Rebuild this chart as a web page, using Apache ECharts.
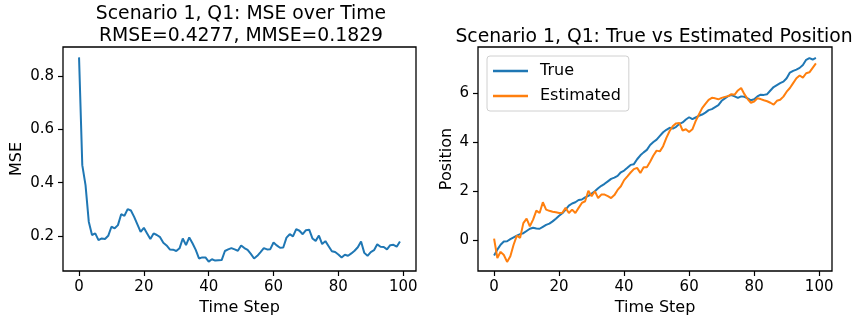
<!DOCTYPE html>
<html>
<head>
<meta charset="utf-8">
<script src="https://cdn.jsdelivr.net/npm/echarts@6/dist/echarts.min.js"></script>
<style>
  html, body { margin: 0; padding: 0; background: #fff; }
  #chart { width: 862px; height: 322px; }
</style>
</head>
<body>
<div id="chart"></div>
<script>
// Time axis: one step per sample
const timeSteps = Array.from({ length: 100 }, (_, i) => i);
const xTicks = [0, 20, 40, 60, 80, 100];
const mseTicks = [0.2, 0.4, 0.6, 0.8];
const posTicks = [0, 2, 4, 6];

// Per-step mean squared error of the filter
const mse = [
  0.87, 0.466, 0.391, 0.254, 0.204, 0.21, 0.185, 0.191, 0.189, 0.201,
  0.235, 0.229, 0.241, 0.282, 0.276, 0.301, 0.296, 0.272, 0.244, 0.216,
  0.231, 0.21, 0.189, 0.21, 0.204, 0.196, 0.175, 0.165, 0.15, 0.149,
  0.144, 0.154, 0.191, 0.166, 0.195, 0.173, 0.148, 0.116, 0.12, 0.12,
  0.104, 0.113, 0.108, 0.109, 0.11, 0.144, 0.15, 0.155, 0.15, 0.145,
  0.165, 0.155, 0.148, 0.133, 0.116, 0.126, 0.14, 0.155, 0.15, 0.151,
  0.176, 0.165, 0.156, 0.157, 0.194, 0.207, 0.199, 0.226, 0.22, 0.207,
  0.222, 0.224, 0.191, 0.182, 0.202, 0.17, 0.181, 0.162, 0.143, 0.14,
  0.131, 0.12, 0.13, 0.126, 0.135, 0.145, 0.158, 0.18, 0.137, 0.126,
  0.14, 0.147, 0.169, 0.16, 0.159, 0.15, 0.166, 0.167, 0.16, 0.18
];

// True trajectory
const truePos = [
  -0.62, -0.38, -0.18, -0.05, -0.04, 0.05, 0.12, 0.19, 0.25, 0.29,
  0.38, 0.47, 0.51, 0.48, 0.47, 0.55, 0.63, 0.68, 0.77, 0.88,
  1.0, 1.1, 1.25, 1.41, 1.5, 1.55, 1.64, 1.66, 1.75, 1.81,
  1.9, 2.0, 2.12, 2.22, 2.3, 2.4, 2.5, 2.55, 2.62, 2.77,
  2.84, 2.95, 3.07, 3.1, 3.3, 3.46, 3.58, 3.68, 3.88, 4.0,
  4.1, 4.25, 4.4, 4.5, 4.58, 4.55, 4.62, 4.74, 4.8, 4.92,
  5.01, 4.93, 5.0, 5.07, 5.12, 5.2, 5.3, 5.34, 5.42, 5.5,
  5.68, 5.78, 5.87, 5.91, 5.86, 5.8, 5.86, 5.84, 5.78, 5.7,
  5.74, 5.86, 5.93, 5.92, 5.95, 6.1, 6.24, 6.32, 6.4, 6.46,
  6.6, 6.83, 6.9, 6.95, 7.02, 7.14, 7.35, 7.42, 7.36, 7.43
];

// Filter estimate
const estPos = [
  0.07, -0.72, -0.47, -0.6, -0.88, -0.65, -0.18, 0.19, 0.1, 0.7,
  0.88, 0.57, 0.84, 1.21, 1.11, 1.55, 1.25, 1.2, 1.16, 1.14,
  1.11, 1.12, 1.32, 1.11, 1.25, 1.11, 1.32, 1.52, 1.59, 2.02,
  1.79, 2.0, 1.72, 1.86, 1.86, 1.8, 1.72, 1.84, 2.05, 2.2,
  2.45, 2.6, 2.76, 2.9, 2.95, 2.74, 2.97, 2.97, 3.2, 3.45,
  3.65, 3.62, 3.83, 4.17, 4.45, 4.65, 4.76, 4.78, 4.47, 4.52,
  4.41, 4.52, 4.85, 5.12, 5.38, 5.55, 5.72, 5.8, 5.78, 5.74,
  5.8, 5.84, 5.87, 5.95, 5.93, 6.1, 6.2, 5.95, 5.75, 5.6,
  5.65, 5.78, 5.75, 5.7, 5.66, 5.6, 5.52, 5.68, 5.72, 5.85,
  6.05, 6.2, 6.4, 6.6, 6.71, 6.62, 6.8, 6.84, 7.02, 7.2
];

const FONT = 'DejaVu Sans';
const pairs = (ys) => timeSteps.map((t, i) => [t, ys[i]]);

function xAxisFor(gridIndex) {
  return {
    type: 'value', gridIndex, min: -4.95, max: 103.95,
    name: 'Time Step', nameLocation: 'middle', nameGap: 25,
    nameTextStyle: { fontFamily: FONT, fontSize: 16, color: '#000' },
    axisLine: { show: false, onZero: false },
    axisTick: { show: true, inside: false, length: 5, customValues: xTicks,
                lineStyle: { color: '#000', width: 1.2 } },
    axisLabel: { customValues: xTicks, margin: 9, fontFamily: FONT, fontSize: 15, color: '#000' },
    splitLine: { show: false }
  };
}

function yAxisFor(gridIndex, min, max, ticks, name, gap, fmt) {
  return {
    type: 'value', gridIndex, min, max,
    name, nameLocation: 'middle', nameGap: gap,
    nameTextStyle: { fontFamily: FONT, fontSize: 16, color: '#000' },
    axisLine: { show: false, onZero: false },
    axisTick: { show: true, inside: false, length: 5, customValues: ticks,
                lineStyle: { color: '#000', width: 1.2 } },
    axisLabel: { customValues: ticks, margin: 9, fontFamily: FONT, fontSize: 15, color: '#000',
                 formatter: fmt },
    splitLine: { show: false }
  };
}

const chart = echarts.init(document.getElementById('chart'), null, { renderer: 'canvas' });
chart.setOption({
  animation: false,
  backgroundColor: '#fff',
  title: [
    {
      text: 'Scenario 1, Q1: MSE over Time\nRMSE=0.4277, MMSE=0.1829',
      left: 236, top: -2, textAlign: 'center',
      textStyle: { fontFamily: FONT, fontSize: 18.8, fontWeight: 'normal', color: '#000', lineHeight: 22 }
    },
    {
      text: 'Scenario 1, Q1: True vs Estimated Position',
      left: 649, top: 21.5, textAlign: 'center',
      textStyle: { fontFamily: FONT, fontSize: 18.8, fontWeight: 'normal', color: '#000', lineHeight: 22 }
    }
  ],
  grid: [
    { left: 63, top: 47, width: 353, height: 224, show: true, borderColor: '#000', borderWidth: 1.3, backgroundColor: 'transparent' },
    { left: 478, top: 47, width: 354, height: 224, show: true, borderColor: '#000', borderWidth: 1.3, backgroundColor: 'transparent' }
  ],
  xAxis: [xAxisFor(0), xAxisFor(1)],
  yAxis: [
    yAxisFor(0, 0.069, 0.909, mseTicks, 'MSE', 38, (v) => v.toFixed(1)),
    yAxisFor(1, -1.25, 7.87, posTicks, 'Position', 23, (v) => String(v))
  ],
  legend: {
    left: 487, top: 56, orient: 'vertical',
    padding: [6, 8, 6, 6],
    itemWidth: 35, itemHeight: 2.5, itemGap: 7,
    backgroundColor: 'rgba(255,255,255,0.8)', borderColor: '#d0d0d0', borderWidth: 1, borderRadius: 3,
    textStyle: { fontFamily: FONT, fontSize: 16, color: '#000', lineHeight: 18, padding: [0, 0, 0, 7] },
    data: [
      { name: 'True', icon: 'rect' },
      { name: 'Estimated', icon: 'rect' }
    ]
  },
  series: [
    { name: 'MSE', type: 'line', xAxisIndex: 0, yAxisIndex: 0, data: pairs(mse),
      showSymbol: false, lineStyle: { color: '#1f77b4', width: 2 }, itemStyle: { color: '#1f77b4' } },
    { name: 'True', type: 'line', xAxisIndex: 1, yAxisIndex: 1, data: pairs(truePos),
      showSymbol: false, lineStyle: { color: '#1f77b4', width: 2 }, itemStyle: { color: '#1f77b4' } },
    { name: 'Estimated', type: 'line', xAxisIndex: 1, yAxisIndex: 1, data: pairs(estPos),
      showSymbol: false, lineStyle: { color: '#ff7f0e', width: 2 }, itemStyle: { color: '#ff7f0e' } }
  ]
});
</script>
</body>
</html>
